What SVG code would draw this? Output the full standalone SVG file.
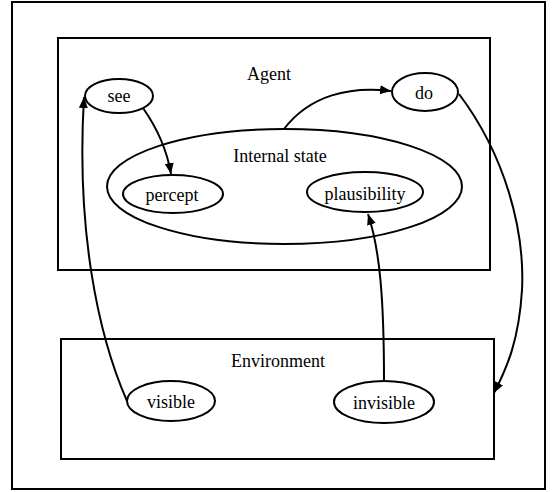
<svg xmlns="http://www.w3.org/2000/svg" width="552" height="492" viewBox="0 0 552 492">
<style>
.box{fill:none;stroke:#000;stroke-width:2}
.node{fill:none;stroke:#000;stroke-width:2}
.edge{fill:none;stroke:#000;stroke-width:2}
.lbl{font-family:"Times New Roman","Liberation Serif",Times,serif;font-size:18px;fill:#000;text-anchor:middle}
</style>
<defs>
<marker id="arr" markerUnits="userSpaceOnUse" markerWidth="12" markerHeight="10" refX="11" refY="4.5" orient="auto">
<path d="M0,0 L11,4.5 L0,9 Z" fill="#000"/>
</marker>
</defs>
<rect width="552" height="492" fill="#fff"/>
<g id="outer"><rect class="box" x="12" y="2" width="533" height="487"/></g>
<g id="agent">
<rect class="box" x="58" y="38" width="432" height="232"/>
<text class="lbl" font-family="Liberation Serif" x="269" y="80">Agent</text>
</g>
<g id="environment">
<rect class="box" x="61" y="339" width="433" height="120"/>
<text class="lbl" x="278" y="367">Environment</text>
</g>
<g id="internal">
<ellipse class="node" cx="284.5" cy="186.5" rx="177.5" ry="57.5"/>
<text class="lbl" x="280" y="162">Internal state</text>
</g>
<g id="see">
<ellipse class="node" cx="119" cy="96" rx="34" ry="17"/>
<text class="lbl" x="119" y="102">see</text>
</g>
<g id="do">
<ellipse class="node" cx="425" cy="92" rx="33" ry="19"/>
<text class="lbl" x="424" y="99">do</text>
</g>
<g id="percept">
<ellipse class="node" cx="173" cy="194" rx="50" ry="19"/>
<text class="lbl" x="172" y="201">percept</text>
</g>
<g id="plausibility">
<ellipse class="node" cx="365" cy="192" rx="58" ry="20"/>
<text class="lbl" x="365" y="200">plausibility</text>
</g>
<g id="visible">
<ellipse class="node" cx="171" cy="401" rx="44" ry="20"/>
<text class="lbl" x="171" y="408">visible</text>
</g>
<g id="invisible">
<ellipse class="node" cx="384" cy="402" rx="50" ry="21"/>
<text class="lbl" x="384" y="409">invisible</text>
</g>
<g id="connectors">
<path class="edge" d="M127,401 C98,335 76,230 84,97" marker-end="url(#arr)"/>
<path class="edge" d="M143,108 C157,128 167,150 171,174" marker-end="url(#arr)"/>
<path class="edge" d="M284,129 C310,95 350,86 391,91" marker-end="url(#arr)"/>
<path class="edge" d="M459,94 C505,155 525,230 522,290 C519,340 507,368 494,393" marker-end="url(#arr)"/>
<path class="edge" d="M384,381 C384,300 380,250 368,214" marker-end="url(#arr)"/>
</g>
</svg>
